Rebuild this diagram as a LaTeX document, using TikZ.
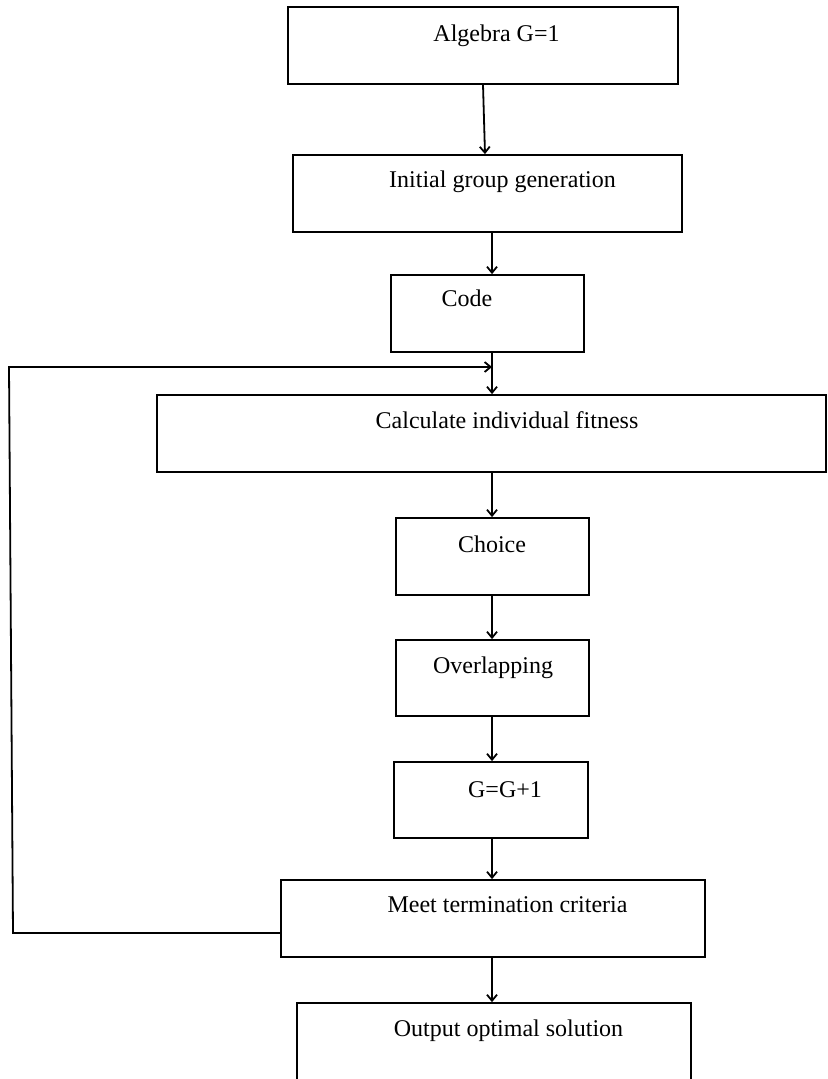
\documentclass[tikz,border=0pt]{standalone}
\usepackage{fontspec}
\setmainfont{Liberation Serif}
\usetikzlibrary{arrows.meta}

\begin{document}
\begin{tikzpicture}[
    x=0.5pt, y=-0.5pt,
    >={Straight Barb[length=3pt,width=5pt]},
    line width=0.9pt,
    flow box/.style={draw,rectangle,inner sep=0pt,minimum height=38.5pt},
    box text/.style={anchor=base,inner sep=0pt,font=\fontsize{12}{14}\selectfont}
  ]
    \useasboundingbox (0,0) rectangle (827,1079);
    \clip (0,0) rectangle (827,1079);

    % Boxes of the loop
    \node[flow box, minimum width=195pt]   (algebra)   at (483,45.5)   {};
    \node[flow box, minimum width=194.5pt] (initgroup) at (487.5,193.5) {};
    \node[flow box, minimum width=96.5pt]  (code)      at (487.5,313.5) {};
    \node[flow box, minimum width=334.5pt] (fitness)   at (491.5,433.5) {};
    \node[flow box, minimum width=96.5pt]  (choice)    at (492.5,556.5) {};
    \node[flow box, minimum width=96.5pt, minimum height=38pt] (overlap) at (492.5,678) {};
    \node[flow box, minimum width=97pt, minimum height=38pt]   (gplus)   at (491,800)   {};
    \node[flow box, minimum width=212pt]   (meet)      at (493,918.5)  {};
    % last box runs past the bottom edge
    \node[flow box, minimum width=197pt, minimum height=48.5pt] (output) at (494,1051.5) {};

    % Texts, set in the upper part of each box
    \node[box text] (algebra text)   at (496.5,42)  {Algebra G=1};
    \node[box text] (initgroup text) at (502.5,188) {Initial group generation};
    \node[box text] (code text)      at (467,307)   {Code};
    \node[box text] (fitness text)   at (507,428)   {Calculate individual fitness};
    \node[box text] (choice text)    at (492,552)   {Choice};
    \node[box text] (overlap text)   at (493,673)   {Overlapping};
    \node[box text] (gplus text)     at (505,797)   {G=G+1};
    \node[box text] (meet text)      at (507.5,912) {Meet termination criteria};
    \node[box text] (output text)    at (508.5,1036) {Output optimal solution};

    % Main flow
    \coordinate (spine) at (492,0);
    \draw[->] (algebra.south) -- ([xshift=1pt]algebra.south |- initgroup.north);
    \foreach \a/\b in {initgroup/code, code/fitness, fitness/choice, choice/overlap,
                       overlap/gplus, gplus/meet, meet/output}
      \draw[->] (\a.south -| spine) -- (\b.north -| spine);

    % Back to fitness when criteria not met
    \coordinate (back low)  at (13,933);
    \coordinate (back high) at (9,367);
    \draw[->] (back low -| meet.west) -- (back low) -- (back high) -- (back high -| spine);

\end{tikzpicture}
\end{document}
